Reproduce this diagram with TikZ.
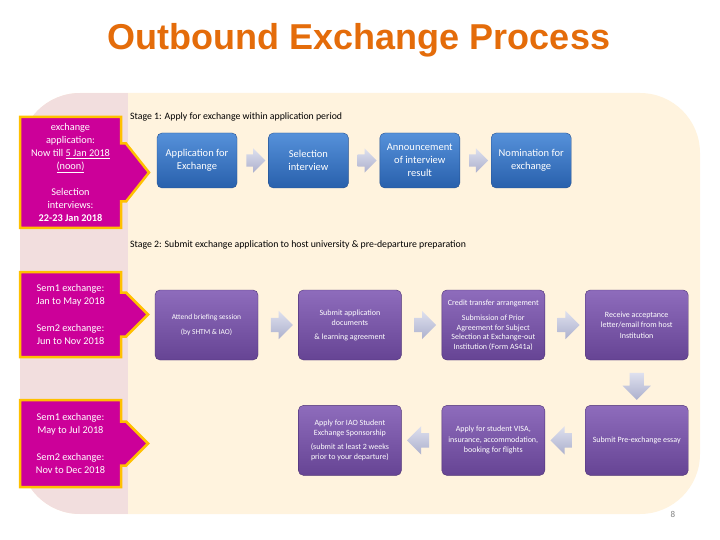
\documentclass[tikz,border=0pt]{standalone}
\usepackage{fontspec}
\setmainfont{Carlito}
\newfontfamily\titlefont{Liberation Sans}
\usepackage{xcolor}
\usepackage{tikz}
\usetikzlibrary{shapes.arrows, positioning, calc, backgrounds}

\definecolor{titleorange}{RGB}{228,108,10}
\definecolor{panelbeige}{RGB}{255,243,222}
\definecolor{panelpink}{RGB}{242,222,222}
\definecolor{datemagenta}{RGB}{204,0,153}
\definecolor{dateborder}{RGB}{255,192,0}
\definecolor{bluetop}{RGB}{86,145,218}
\definecolor{bluebottom}{RGB}{40,96,172}
\definecolor{blueedge}{RGB}{38,82,145}
\definecolor{purpletop}{RGB}{142,108,188}
\definecolor{purplebottom}{RGB}{102,68,148}
\definecolor{purpleedge}{RGB}{78,50,118}
\definecolor{arrowtop}{RGB}{222,224,238}
\definecolor{arrowbottom}{RGB}{172,176,205}

\begin{document}
\begin{tikzpicture}[
    x=1pt, y=-1pt,
    titletext/.style={font=\titlefont\bfseries\fontsize{36}{40}\selectfont, text=titleorange},
    stagelabel/.style={anchor=west, font=\fontsize{9.8}{11}\selectfont, inner sep=1pt},
    datebox/.style={rectangle, minimum width=101pt, outer sep=0pt, align=center, text=white, font=\fontsize{10.3}{13}\selectfont},
    calloutline/.style={fill=datemagenta, draw=dateborder, line width=2.5pt, line join=miter},
    bluebox/.style={rectangle, rounded corners=5pt, draw=blueedge, top color=bluetop, bottom color=bluebottom, minimum width=80pt, minimum height=55pt, align=center, text=white, font=\fontsize{10.5}{13}\selectfont, inner sep=1pt},
    purplebox/.style={rectangle, rounded corners=5pt, draw=purpleedge, top color=purpletop, bottom color=purplebottom, minimum width=103pt, minimum height=70pt, align=center, text=white, font=\fontsize{8}{10.5}\selectfont, inner sep=1pt},
    flowarrow/.style={single arrow, top color=arrowtop, bottom color=arrowbottom, inner sep=7pt, single arrow head extend=7pt, minimum height=22pt, outer sep=0pt},
    smallarrow/.style={flowarrow, inner sep=6pt, single arrow head extend=6pt, minimum height=19pt}
]
\useasboundingbox (0,0) rectangle (720,540);

\node (title) [titletext] at (359,40) {Outbound Exchange Process};

% stage 1
\node (stage1) [stagelabel] at (129,117) {Stage 1: Apply for exchange within application period};
\node (app) [bluebox] at (197,160.5) {Application for\\Exchange};
\node (interview) [bluebox, right=31pt of app] {Selection\\interview};
\node (announce) [bluebox, right=31pt of interview] {Announcement\\of interview\\result};
\node (nominate) [bluebox, right=31pt of announce] {Nomination for\\exchange};
\path (app) -- node (a1) [smallarrow] {} (interview);
\path (interview) -- node (a2) [smallarrow] {} (announce);
\path (announce) -- node (a3) [smallarrow] {} (nominate);

% stage 2
\node (stage2) [stagelabel] at (129,245) {Stage 2: Submit exchange application to host university \& pre-departure preparation};
\node (briefing) [purplebox, font=\fontsize{7.5}{10.5}\selectfont] at (206.5,325) {Attend briefing session\\[4pt](by SHTM \& IAO)};
\node (submitdocs) [purplebox, right=40pt of briefing] {Submit application\\documents\\[3pt]\& learning agreement};
\node (credit) [purplebox, right=40pt of submitdocs, font=\fontsize{8}{9.5}\selectfont] {Credit transfer arrangement\\[6pt]Submission of Prior\\Agreement for Subject\\Selection at Exchange-out\\Institution (Form AS41a)};
\node (accept) [purplebox, right=40pt of credit] {Receive acceptance\\letter/email from host\\Institution};
\node (essay) [purplebox, below=45pt of accept] {Submit Pre-exchange essay};
\node (visa) [purplebox, left=40pt of essay] {Apply for student VISA,\\insurance, accommodation,\\booking for flights};
\node (sponsor) [purplebox, left=40pt of visa] {Apply for IAO Student\\Exchange Sponsorship\\[3pt](submit at least 2 weeks\\prior to your departure)};
\path (briefing) -- node (a4) [flowarrow] {} (submitdocs);
\path (submitdocs) -- node (a5) [flowarrow] {} (credit);
\path (credit) -- node (a6) [flowarrow] {} (accept);
\path (accept) -- node (a7) [flowarrow, rotate=-90, minimum height=27pt] {} (essay);
\path (essay) -- node (a8) [flowarrow, rotate=180] {} (visa);
\path (visa) -- node (a9) [flowarrow, rotate=180] {} (sponsor);

% date callouts
\node (applywin) [datebox, minimum height=111pt] at (70.5,172.5) {exchange\\application:\\Now till \underline{5 Jan 2018}\\\underline{(noon)}\\[13pt]Selection\\interviews:\\\textbf{22-23 Jan 2018}};
\node (predepart) [datebox, minimum height=85pt] at (70.5,314.5) {Sem1 exchange:\\Jan to May 2018\\[14pt]Sem2 exchange:\\Jun to Nov 2018};
\node (departure) [datebox, minimum height=87pt] at (70.5,443.5) {Sem1 exchange:\\May to Jul 2018\\[14pt]Sem2 exchange:\\Nov to Dec 2018};

\node (pagenum) [font=\fontsize{9}{10}\selectfont, text=gray] at (673,514) {8};

\begin{scope}[on background layer]
\fill[panelbeige, rounded corners=60pt] (20,93) rectangle (700,514);
\begin{scope}
\clip[rounded corners=60pt] (20,93) rectangle (700,514);
\fill[panelpink] (20,93) rectangle (128,514);
\end{scope}
\draw[calloutline] (applywin.north west) -- (applywin.north east) -- ($(applywin.east)+(0pt,29pt)$) -- ++(5pt,0pt) -- ($(applywin.east)+(28pt,0pt)$) -- ($(applywin.east)+(5pt,-29pt)$) -- ($(applywin.east)+(0pt,-29pt)$) -- (applywin.south east) -- (applywin.south west) -- cycle;
\draw[calloutline] (predepart.north west) -- (predepart.north east) -- ($(predepart.east)+(0pt,22pt)$) -- ++(5pt,0pt) -- ($(predepart.east)+(27pt,0pt)$) -- ($(predepart.east)+(5pt,-22pt)$) -- ($(predepart.east)+(0pt,-22pt)$) -- (predepart.south east) -- (predepart.south west) -- cycle;
\draw[calloutline] (departure.north west) -- (departure.north east) -- ($(departure.east)+(0pt,22pt)$) -- ++(5pt,0pt) -- ($(departure.east)+(27pt,0pt)$) -- ($(departure.east)+(5pt,-22pt)$) -- ($(departure.east)+(0pt,-22pt)$) -- (departure.south east) -- (departure.south west) -- cycle;
\end{scope}
\end{tikzpicture}
\end{document}
